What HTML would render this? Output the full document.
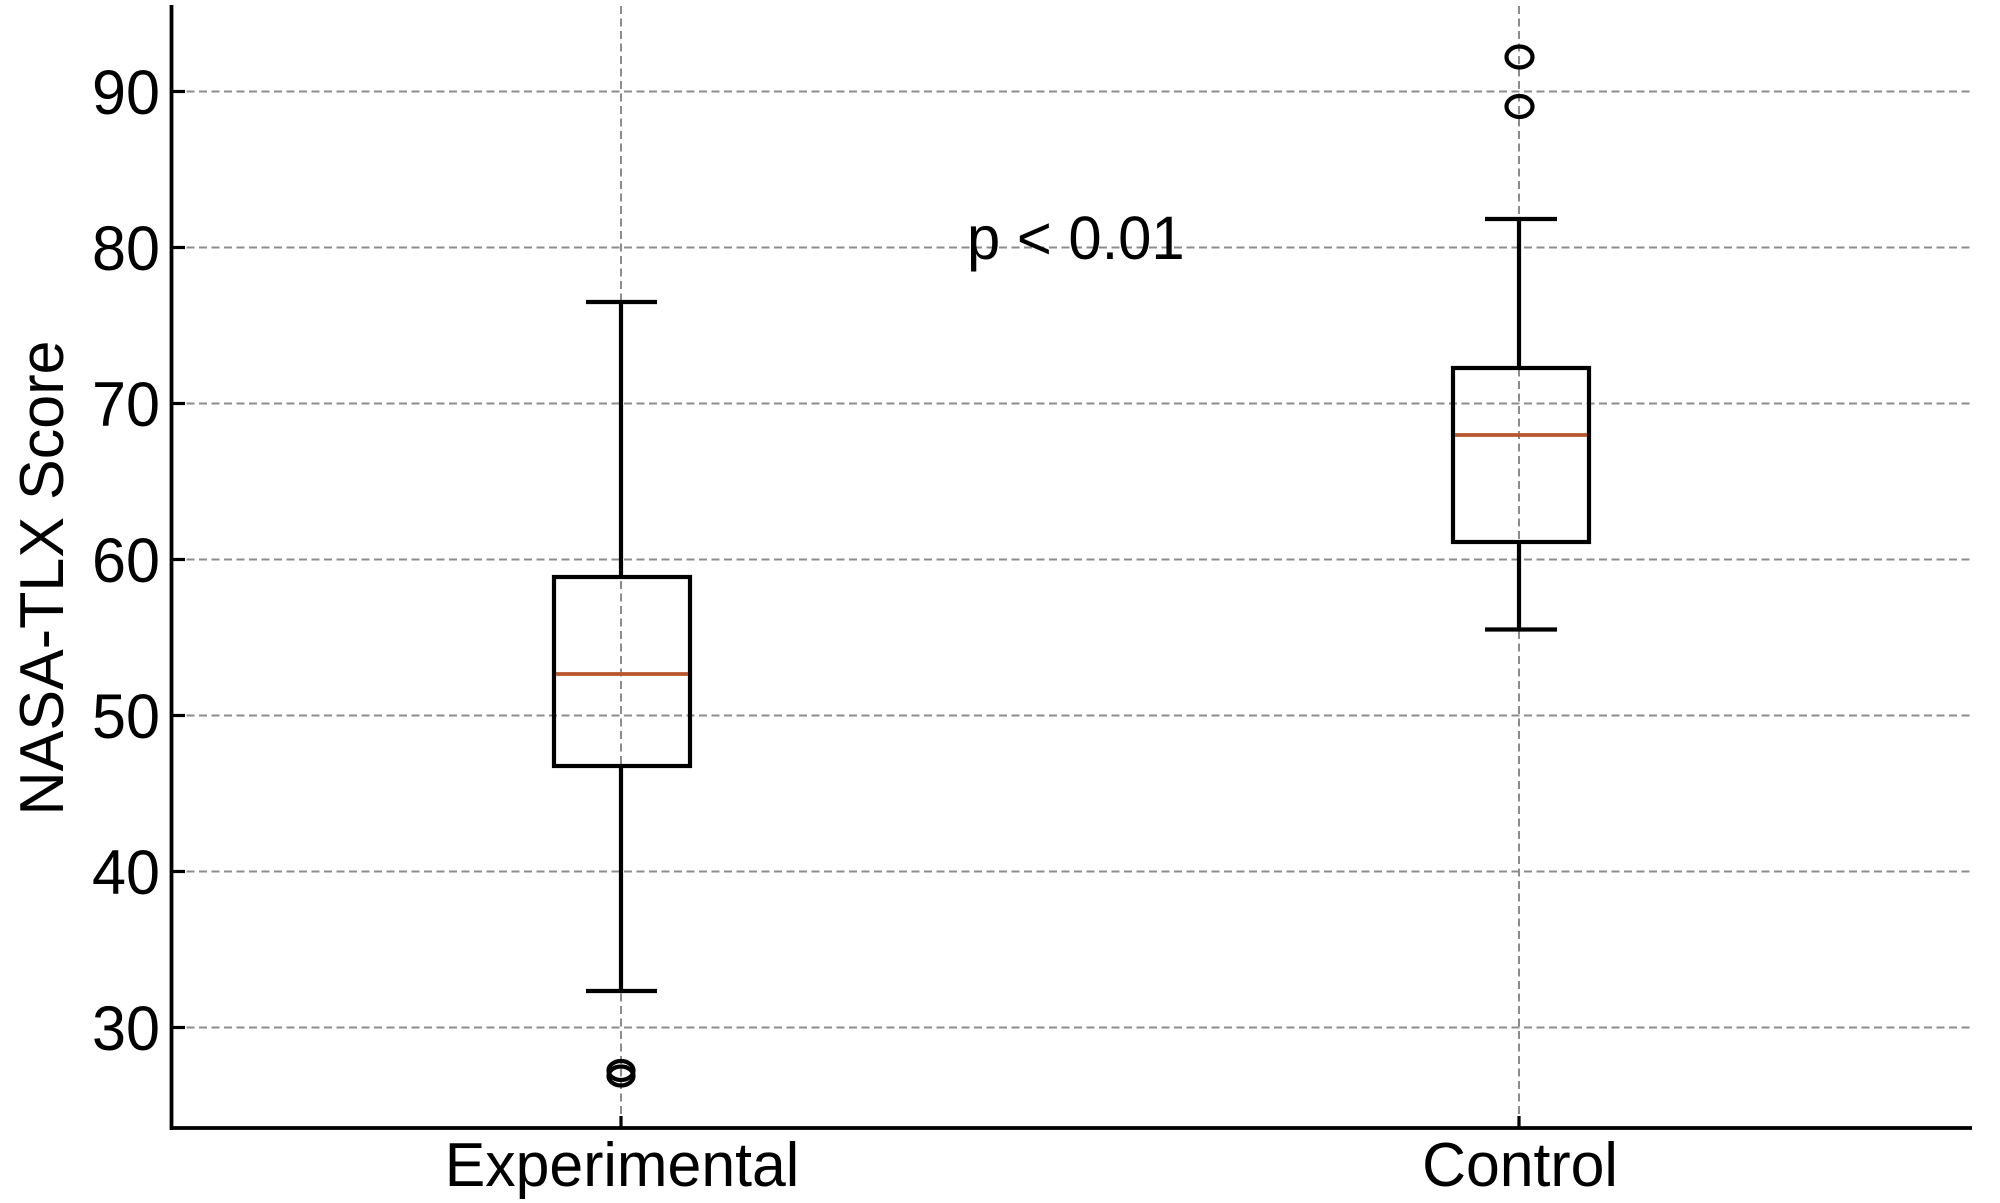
<!DOCTYPE html>
<html>
<head>
<meta charset="utf-8">
<style>
html,body{margin:0;padding:0;background:#fff;}
svg{display:block;}
text{font-family:"Liberation Sans",Arial,sans-serif;fill:#000;}
</style>
</head>
<body>
<svg width="2000" height="1203" viewBox="0 0 2000 1203" xmlns="http://www.w3.org/2000/svg">
<rect width="2000" height="1203" fill="#fff"/>
<!-- grid -->
<g stroke="#8c8c8c" stroke-width="2" stroke-dasharray="8 4.5" fill="none">
<line x1="174" y1="91.5" x2="1970" y2="91.5"/>
<line x1="174" y1="247.5" x2="1970" y2="247.5"/>
<line x1="174" y1="403.5" x2="1970" y2="403.5"/>
<line x1="174" y1="559.5" x2="1970" y2="559.5"/>
<line x1="174" y1="715.5" x2="1970" y2="715.5"/>
<line x1="174" y1="871.5" x2="1970" y2="871.5"/>
<line x1="174" y1="1027.5" x2="1970" y2="1027.5"/>
<line x1="621" y1="6" x2="621" y2="1127"/>
<line x1="1519" y1="6" x2="1519" y2="1127"/>
</g>
<!-- axes -->
<g stroke="#000" stroke-width="3.8" fill="none">
<line x1="171.5" y1="5" x2="171.5" y2="1130"/>
<line x1="170" y1="1128" x2="1972" y2="1128"/>
</g>
<!-- ticks -->
<g stroke="#000" stroke-width="3.2" fill="none">
<line x1="172" y1="91.5" x2="185" y2="91.5"/>
<line x1="172" y1="247.5" x2="185" y2="247.5"/>
<line x1="172" y1="403.5" x2="185" y2="403.5"/>
<line x1="172" y1="559.5" x2="185" y2="559.5"/>
<line x1="172" y1="715.5" x2="185" y2="715.5"/>
<line x1="172" y1="871.5" x2="185" y2="871.5"/>
<line x1="172" y1="1027.5" x2="185" y2="1027.5"/>
<line x1="621" y1="1116" x2="621" y2="1128"/>
<line x1="1519" y1="1116" x2="1519" y2="1128"/>
</g>
<!-- tick labels -->
<g font-size="63" text-anchor="end">
<text transform="translate(160,114) scale(0.97,1)">90</text>
<text transform="translate(160,270) scale(0.97,1)">80</text>
<text transform="translate(160,426) scale(0.97,1)">70</text>
<text transform="translate(160,582) scale(0.97,1)">60</text>
<text transform="translate(160,738) scale(0.97,1)">50</text>
<text transform="translate(160,894) scale(0.97,1)">40</text>
<text transform="translate(160,1050) scale(0.97,1)">30</text>
</g>
<g font-size="62" text-anchor="middle">
<text transform="translate(622,1186) scale(0.98,1)">Experimental</text>
<text transform="translate(1520,1186) scale(0.98,1)">Control</text>
</g>
<text font-size="62" text-anchor="middle" transform="translate(63,578) rotate(-90) scale(0.985,1)">NASA-TLX Score</text>
<text font-size="61" transform="translate(967,259) scale(0.98,1)">p &lt; 0.01</text>

<!-- Experimental box -->
<g stroke="#000" stroke-width="4.2" fill="none">
<line x1="621" y1="302" x2="621" y2="577"/>
<line x1="621" y1="766" x2="621" y2="991"/>
<line x1="586" y1="302" x2="657" y2="302"/>
<line x1="586" y1="991" x2="657" y2="991"/>
<rect x="554" y="577" width="136" height="189"/>
<ellipse cx="621" cy="1070.5" rx="12.5" ry="9.5"/>
<ellipse cx="621" cy="1076" rx="12.5" ry="9.5"/>
</g>
<line x1="556" y1="674" x2="688" y2="674" stroke="#b8552c" stroke-width="3.8"/>

<!-- Control box -->
<g stroke="#000" stroke-width="4.2" fill="none">
<line x1="1519" y1="219" x2="1519" y2="368"/>
<line x1="1519" y1="542" x2="1519" y2="629.5"/>
<line x1="1485" y1="219" x2="1557" y2="219"/>
<line x1="1485" y1="629.5" x2="1557" y2="629.5"/>
<rect x="1453" y="368" width="136" height="174"/>
<ellipse cx="1519.5" cy="57" rx="13" ry="10.5"/>
<ellipse cx="1519.5" cy="106.5" rx="13" ry="10.5"/>
</g>
<line x1="1455" y1="435" x2="1587" y2="435" stroke="#b8552c" stroke-width="3.8"/>
</svg>
</body>
</html>
